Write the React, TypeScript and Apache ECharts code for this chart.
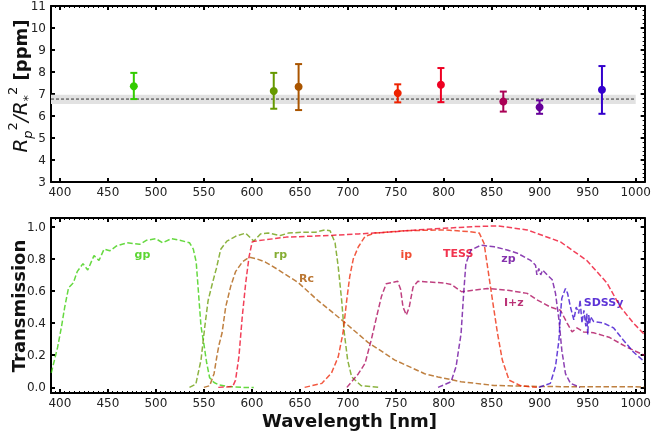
import React, { useEffect, useRef } from 'react';
import * as echarts from 'echarts';

const X_MIN = 390.7;
const X_MAX = 1009.3;
const xTicks = [400, 450, 500, 550, 600, 650, 700, 750, 800, 850, 900, 950, 1000];
const xMinor: number[] = [];
for (let v = 395; v <= 1005; v += 5) xMinor.push(v);
const tTicks = [0, 0.2, 0.4, 0.6, 0.8, 1.0];
const tMinor = [0.05, 0.1, 0.15, 0.25, 0.3, 0.35, 0.45, 0.5, 0.55, 0.65, 0.7, 0.75, 0.85, 0.9, 0.95, 1.05];

// Top panel: transit depth per band
const bandNames = ['gp', 'rp', 'Rc', 'ip', 'TESS', 'I+z', 'zp', 'SDSSy'];
const bandColors = ['#33cc00', '#669900', '#aa5500', '#ee2200', '#ee0022', '#aa0055', '#660099', '#3300cc'];
const pointWl = [477, 622.8, 648.7, 752, 797, 862, 899.8, 964.8];
const pointDepth = [7.35, 7.14, 7.33, 7.04, 7.42, 6.66, 6.40, 7.19];
const pointLo = [6.77, 6.33, 6.27, 6.62, 6.63, 6.20, 6.10, 6.10];
const pointHi = [7.96, 7.96, 8.36, 7.44, 8.18, 7.11, 6.71, 8.27];
const meanDepth = 6.77;
const meanLo = 6.55;
const meanHi = 6.97;

// Bottom panel: filter transmission curves
const gpWl = [391, 397.6, 401.7, 405, 409, 414, 418, 424, 429, 435.5, 440.7, 446, 452, 459, 470, 483, 490, 500, 507, 516, 525, 535, 539, 542, 545, 547, 550, 553, 556, 560.6, 566, 575, 590, 602];
const gpT = [0.09, 0.25, 0.38, 0.5, 0.62, 0.65, 0.72, 0.77, 0.73, 0.82, 0.79, 0.86, 0.85, 0.88, 0.9, 0.89, 0.915, 0.925, 0.9, 0.925, 0.915, 0.9, 0.86, 0.78, 0.54, 0.38, 0.27, 0.15, 0.06, 0.03, 0.015, 0.005, 0.0, 0.0];
const rpWl = [535, 541.6, 547, 551, 554.4, 559, 563, 567.6, 574, 583, 593.5, 602, 609, 617, 629.7, 638, 652, 666, 676, 681.5, 686.7, 690, 693.6, 696.4, 699.8, 704, 714, 733];
const rpT = [0, 0.02, 0.17, 0.38, 0.54, 0.65, 0.74, 0.86, 0.91, 0.94, 0.96, 0.91, 0.955, 0.96, 0.945, 0.96, 0.965, 0.965, 0.98, 0.975, 0.9, 0.75, 0.54, 0.335, 0.17, 0.065, 0.01, 0.0];
const rcWl = [550, 556, 560.6, 564, 566, 569, 572.7, 578, 583, 590, 597, 605, 614, 628, 648.7, 669, 693.6, 721, 749, 780, 794, 818, 852.5, 900, 1009];
const rcT = [0, 0.01, 0.085, 0.21, 0.27, 0.34, 0.5, 0.63, 0.72, 0.78, 0.81, 0.8, 0.78, 0.73, 0.65, 0.54, 0.42, 0.28, 0.17, 0.085, 0.065, 0.035, 0.012, 0.005, 0.003];
const tessWl = [565, 580, 583, 586.5, 590, 593.5, 597, 600.3, 603, 636, 680, 711, 740, 773, 800, 830, 856, 887, 921.6, 949, 970, 984, 997.6, 1009];
const tessT = [0, 0.005, 0.045, 0.19, 0.44, 0.645, 0.81, 0.905, 0.91, 0.935, 0.945, 0.955, 0.965, 0.98, 0.99, 1.0, 1.005, 0.98, 0.905, 0.79, 0.65, 0.5, 0.4, 0.33];
const ipWl = [655, 673, 683, 690, 695, 698.8, 702, 705.7, 711, 718, 728, 760, 800, 825, 837, 842, 845.6, 850.8, 856, 861, 868, 880, 897];
const ipT = [0, 0.025, 0.09, 0.19, 0.34, 0.54, 0.69, 0.8, 0.875, 0.94, 0.96, 0.975, 0.98, 0.97, 0.96, 0.895, 0.75, 0.54, 0.335, 0.17, 0.045, 0.01, 0];
const izWl = [699, 711, 718, 724.6, 730, 735, 740, 752, 755, 757.5, 761, 764, 768, 773, 800, 808, 818.6, 825, 845.6, 866, 887, 897, 911, 921.6, 928.5, 933.7, 938.8, 945.6, 956, 973, 990.7, 1009];
const izT = [0, 0.085, 0.15, 0.3, 0.44, 0.565, 0.645, 0.66, 0.61, 0.5, 0.45, 0.5, 0.625, 0.66, 0.65, 0.64, 0.595, 0.6, 0.615, 0.605, 0.585, 0.545, 0.5, 0.48, 0.4, 0.345, 0.37, 0.345, 0.34, 0.31, 0.25, 0.2];
const zpWl = [794, 807.6, 812.8, 818, 820.7, 823, 828.3, 838.7, 852.5, 866, 876.7, 890.5, 895.6, 897, 899, 901, 903, 907.8, 913, 916.4, 920, 923, 926.8, 932, 942];
const zpT = [0, 0.035, 0.13, 0.335, 0.585, 0.77, 0.855, 0.885, 0.875, 0.855, 0.835, 0.79, 0.76, 0.7, 0.74, 0.7, 0.73, 0.7, 0.67, 0.585, 0.42, 0.23, 0.085, 0.025, 0];
const syWl = [899, 911, 916.4, 920, 921.6, 923, 926.8, 929, 932, 935.5, 938, 940.6, 942, 944, 946, 948, 949, 950, 951, 952, 953, 956, 966.5, 977, 987, 997.6, 1009];
const syT = [0, 0.025, 0.13, 0.295, 0.46, 0.555, 0.615, 0.585, 0.5, 0.42, 0.5, 0.46, 0.545, 0.4, 0.48, 0.38, 0.46, 0.33, 0.45, 0.4, 0.44, 0.41, 0.4, 0.37, 0.295, 0.22, 0.16];

const curveWl = [gpWl, rpWl, rcWl, ipWl, tessWl, izWl, zpWl, syWl];
const curveT = [gpT, rpT, rcT, ipT, tessT, izT, zpT, syT];

// Label anchor positions (data coordinates) in the bottom panel
const labelWl = [486, 629.7, 657, 761, 815, 873, 867.4, 966.5];
const labelT = [0.824, 0.828, 0.676, 0.828, 0.83, 0.527, 0.8, 0.527];

const FONT = 'DejaVu Sans';
const TICK_COLOR = '#222';

function xAxes(gridIndex: number, bottomMinor: boolean) {
  const base = {
    gridIndex,
    type: 'value',
    min: X_MIN,
    max: X_MAX,
    splitLine: { show: false },
  };
  const axes: any[] = [
    {
      ...base,
      position: 'bottom',
      axisLine: { show: true, onZero: false, lineStyle: { color: '#000', width: 2 } },
      axisTick: { show: true, inside: true, length: 4, customValues: xTicks, lineStyle: { color: '#000', width: 2 } },
      axisLabel: {
        show: true, customValues: xTicks, color: TICK_COLOR, fontSize: 12, fontFamily: FONT, margin: 4,
        formatter: (v: number) => String(Math.round(v)),
      },
    },
    {
      ...base,
      position: 'top',
      axisLine: { show: true, onZero: false, lineStyle: { color: '#000', width: 2 } },
      axisTick: { show: true, inside: true, length: 4, customValues: xTicks, lineStyle: { color: '#000', width: 2 } },
      axisLabel: { show: false },
    },
    {
      ...base,
      position: 'top',
      axisLine: { show: false, onZero: false },
      axisTick: { show: true, inside: true, length: 2, customValues: xMinor, lineStyle: { color: '#000', width: 1 } },
      axisLabel: { show: false },
    },
  ];
  if (bottomMinor) {
    axes.push({
      ...base,
      position: 'bottom',
      axisLine: { show: false, onZero: false },
      axisTick: { show: true, inside: true, length: 2, customValues: xMinor, lineStyle: { color: '#000', width: 1 } },
      axisLabel: { show: false },
    });
  }
  return axes;
}

export default function App() {
  const ref = useRef<HTMLDivElement>(null);

  useEffect(() => {
    if (!ref.current) return;
    const chart = echarts.init(ref.current, null, { renderer: 'svg' });

    const xAxis = [...xAxes(0, false), ...xAxes(1, true)];
    // indices: grid0 -> 0..2, grid1 -> 3..6
    const yAxis: any[] = [
      {
        gridIndex: 0, type: 'value', position: 'left', min: 3, max: 11, interval: 1,
        splitLine: { show: false },
        axisLine: { show: true, onZero: false, lineStyle: { color: '#000', width: 2 } },
        axisTick: { show: true, inside: true, length: 4, lineStyle: { color: '#000', width: 2 } },
        axisLabel: { color: TICK_COLOR, fontSize: 12, fontFamily: FONT, margin: 5 },
      },
      {
        gridIndex: 0, type: 'value', position: 'right', min: 3, max: 11, interval: 1,
        splitLine: { show: false },
        axisLine: { show: true, onZero: false, lineStyle: { color: '#000', width: 2 } },
        axisTick: { show: true, inside: true, length: 4, lineStyle: { color: '#000', width: 2 } },
        minorTick: { show: true, splitNumber: 5, length: 2, lineStyle: { color: '#000', width: 1 } },
        axisLabel: { show: false },
      },
      {
        gridIndex: 1, type: 'value', position: 'left', min: -0.035, max: 1.054,
        splitLine: { show: false },
        axisLine: { show: true, onZero: false, lineStyle: { color: '#000', width: 2 } },
        axisTick: { show: true, inside: true, length: 4, customValues: tTicks, lineStyle: { color: '#000', width: 2 } },
        axisLabel: {
          customValues: tTicks, color: TICK_COLOR, fontSize: 12, fontFamily: FONT, margin: 5,
          formatter: (v: number) => v.toFixed(1),
        },
      },
      {
        gridIndex: 1, type: 'value', position: 'right', min: -0.035, max: 1.054,
        splitLine: { show: false },
        axisLine: { show: true, onZero: false, lineStyle: { color: '#000', width: 2 } },
        axisTick: { show: true, inside: true, length: 4, customValues: tTicks, lineStyle: { color: '#000', width: 2 } },
        axisLabel: { show: false },
      },
      {
        gridIndex: 1, type: 'value', position: 'right', min: -0.035, max: 1.054,
        splitLine: { show: false },
        axisLine: { show: false, onZero: false },
        axisTick: { show: true, inside: true, length: 2, customValues: tMinor, lineStyle: { color: '#000', width: 1 } },
        axisLabel: { show: false },
      },
    ];

    const series: any[] = [];
    // mean band
    series.push({
      type: 'custom',
      xAxisIndex: 0,
      yAxisIndex: 0,
      z: 1,
      silent: true,
      data: [[X_MIN, meanLo, 1000, meanHi]],
      renderItem: (params: any, api: any) => {
        const p0 = api.coord([api.value(0), api.value(1)]);
        const p1 = api.coord([api.value(2), api.value(3)]);
        return {
          type: 'rect',
          shape: { x: p0[0], y: p1[1], width: p1[0] - p0[0], height: p0[1] - p1[1] },
          style: { fill: '#e2e2e2' },
        };
      },
    });
    series.push({
      type: 'line',
      xAxisIndex: 0,
      yAxisIndex: 0,
      z: 2,
      silent: true,
      showSymbol: false,
      data: [[X_MIN, meanDepth], [1000, meanDepth]],
      lineStyle: { color: '#333', width: 1, type: [3, 2] },
    });
    series.push({
      type: 'custom',
      xAxisIndex: 0,
      yAxisIndex: 0,
      z: 3,
      data: pointWl.map((w, i) => [w, pointDepth[i], pointLo[i], pointHi[i], i]),
      renderItem: (params: any, api: any) => {
        const x = api.value(0);
        const c = api.coord([x, api.value(1)]);
        const lo = api.coord([x, api.value(2)]);
        const hi = api.coord([x, api.value(3)]);
        const color = bandColors[api.value(4)];
        const cap = 3.5;
        const st = { stroke: color, lineWidth: 2 };
        return {
          type: 'group',
          children: [
            { type: 'line', shape: { x1: c[0], y1: lo[1], x2: c[0], y2: hi[1] }, style: st },
            { type: 'line', shape: { x1: c[0] - cap, y1: hi[1], x2: c[0] + cap, y2: hi[1] }, style: st },
            { type: 'line', shape: { x1: c[0] - cap, y1: lo[1], x2: c[0] + cap, y2: lo[1] }, style: st },
            { type: 'circle', shape: { cx: c[0], cy: c[1], r: 4 }, style: { fill: color } },
          ],
        };
      },
    });

    curveWl.forEach((wl, i) => {
      series.push({
        type: 'line',
        xAxisIndex: 3,
        yAxisIndex: 2,
        showSymbol: false,
        silent: true,
        data: wl.map((w, j) => [w, curveT[i][j]]),
        lineStyle: { color: bandColors[i], width: 1.5, type: [5.5, 2.5], opacity: 0.75 },
      });
    });

    series.push({
      type: 'scatter',
      xAxisIndex: 3,
      yAxisIndex: 2,
      symbolSize: 0,
      silent: true,
      data: bandNames.map((n, i) => ({
        name: n,
        value: [labelWl[i], labelT[i]],
        label: { color: bandColors[i] },
      })),
      label: {
        show: true,
        position: 'inside',
        formatter: '{b}',
        fontFamily: FONT,
        fontWeight: 'bold',
        fontSize: 11,
      },
    });

    chart.setOption({
      animation: false,
      grid: [
        { left: 51, right: 6, top: 5, height: 177 },
        { left: 51, right: 6, top: 218, height: 175 },
      ],
      xAxis,
      yAxis,
      series,
      graphic: [
        {
          type: 'text',
          x: 20,
          y: 86,
          rotation: Math.PI / 2,
          style: {
            text: '{r|R}{sb|p}{sp|2}{r|/R}{sb|*}{sp|2}{b| [ppm]}',
            align: 'center',
            verticalAlign: 'middle',
            fill: '#111',
            rich: {
              r: { fontFamily: FONT, fontStyle: 'italic', fontSize: 20, lineHeight: 28, fill: '#111' },
              sb: { fontFamily: FONT, fontStyle: 'italic', fontSize: 13, lineHeight: 14, verticalAlign: 'bottom', fill: '#111' },
              sp: { fontFamily: FONT, fontSize: 13, lineHeight: 14, verticalAlign: 'top', fill: '#111' },
              b: { fontFamily: FONT, fontWeight: 'bold', fontSize: 18, lineHeight: 28, fill: '#111' },
            },
          },
        },
        {
          type: 'text',
          x: 18,
          y: 306,
          rotation: Math.PI / 2,
          style: {
            text: 'Transmission',
            align: 'center',
            verticalAlign: 'middle',
            fontFamily: FONT,
            fontWeight: 'bold',
            fontSize: 18,
            fill: '#111',
          },
        },
        {
          type: 'text',
          x: 349.5,
          y: 420,
          style: {
            text: 'Wavelength [nm]',
            align: 'center',
            verticalAlign: 'middle',
            fontFamily: FONT,
            fontWeight: 'bold',
            fontSize: 18,
            fill: '#111',
          },
        },
      ],
    });

    return () => chart.dispose();
  }, []);

  return <div ref={ref} style={{ position: 'fixed', left: 0, top: 0, width: 654, height: 435 }} />;
}
